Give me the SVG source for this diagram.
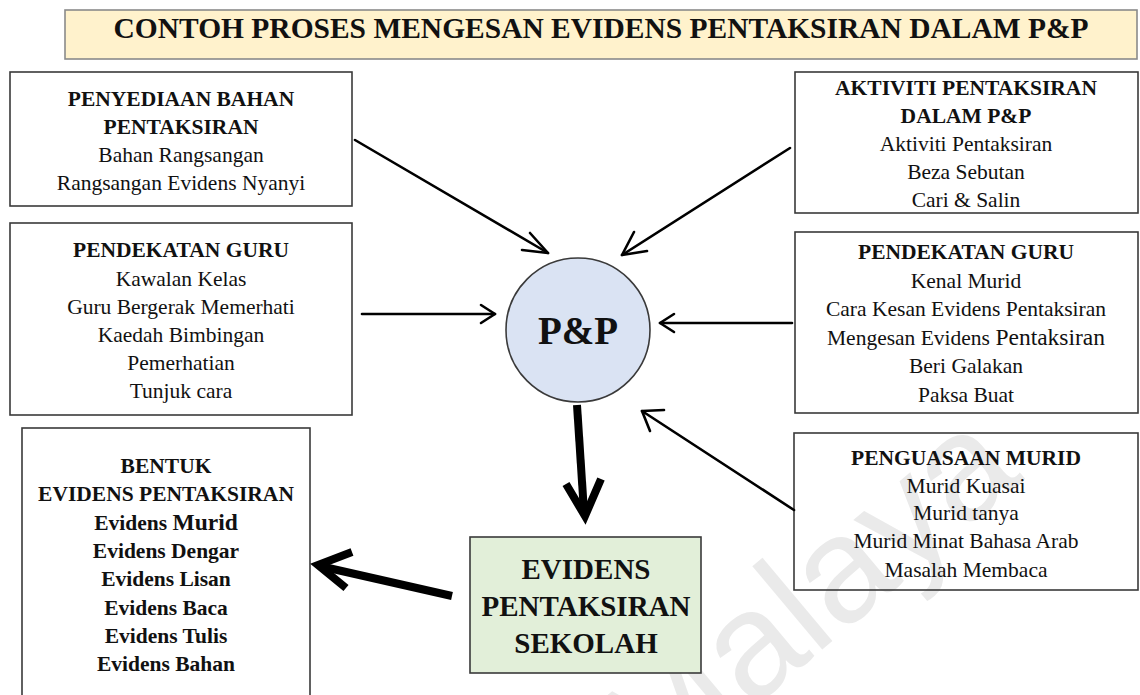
<svg xmlns="http://www.w3.org/2000/svg" width="1140" height="695" viewBox="0 0 1140 695">
  <style>
    .box { fill: none; stroke: #3a3a3a; stroke-width: 1.6; }
    .t { font-family: "Liberation Serif", "Times New Roman", serif; text-anchor: middle; fill: #111; }
    .h { font-weight: bold; font-size: 21.5px; }
    .n { font-size: 21.5px; }
    .thin { fill: none; stroke: #000; stroke-width: 2.6; stroke-linecap: round; stroke-linejoin: round; }
    .thick { fill: none; stroke: #000; stroke-width: 8; stroke-linecap: butt; stroke-linejoin: miter; }
  </style>

  <rect x="0" y="0" width="1140" height="695" fill="#ffffff"/>

  <!-- faint background watermark -->
  <text x="655" y="790" transform="rotate(-40 655 790)" font-family="Liberation Sans, Arial, sans-serif" font-size="150" fill="#eaeaea">Malaya</text>

  <!-- title banner -->
  <g id="title">
    <rect x="65" y="10" width="1072" height="49" fill="#fff2cc" stroke="#8a8a8a" stroke-width="1.6"/>
    <text class="t" x="601" y="38" font-weight="bold" font-size="30" textLength="975" lengthAdjust="spacingAndGlyphs">CONTOH PROSES MENGESAN EVIDENS PENTAKSIRAN DALAM P&amp;P</text>
  </g>

  <!-- left column -->
  <g id="penyediaan-bahan">
    <rect class="box" x="10" y="72" width="342" height="134"/>
    <text class="t h" x="181" y="106">PENYEDIAAN BAHAN</text>
    <text class="t h" x="181" y="134">PENTAKSIRAN</text>
    <text class="t n" x="181" y="162">Bahan Rangsangan</text>
    <text class="t n" x="181" y="190">Rangsangan  Evidens Nyanyi</text>
  </g>

  <g id="pendekatan-guru-kiri">
    <rect class="box" x="10" y="223" width="342" height="192"/>
    <text class="t h" x="181" y="257">PENDEKATAN GURU</text>
    <text class="t n" x="181" y="286">Kawalan Kelas</text>
    <text class="t n" x="181" y="314">Guru Bergerak Memerhati</text>
    <text class="t n" x="181" y="342">Kaedah Bimbingan</text>
    <text class="t n" x="181" y="370">Pemerhatian</text>
    <text class="t n" x="181" y="398">Tunjuk cara</text>
  </g>

  <g id="bentuk-evidens">
    <rect class="box" x="22" y="428" width="288" height="280"/>
    <text class="t h" x="166" y="473">BENTUK</text>
    <text class="t h" x="166" y="501">EVIDENS PENTAKSIRAN</text>
    <text class="t h" x="166" y="530">Evidens <tspan font-size="23.5">Murid</tspan></text>
    <text class="t h" x="166" y="558">Evidens Dengar</text>
    <text class="t h" x="166" y="586">Evidens Lisan</text>
    <text class="t h" x="166" y="615">Evidens Baca</text>
    <text class="t h" x="166" y="643">Evidens Tulis</text>
    <text class="t h" x="166" y="671">Evidens Bahan</text>
  </g>

  <!-- right column -->
  <g id="aktiviti-pentaksiran">
    <rect class="box" x="795" y="72" width="343" height="141"/>
    <text class="t h" x="966" y="95">AKTIVITI PENTAKSIRAN</text>
    <text class="t h" x="966" y="123">DALAM P&amp;P</text>
    <text class="t n" x="966" y="151">Aktiviti  Pentaksiran</text>
    <text class="t n" x="966" y="179">Beza Sebutan</text>
    <text class="t n" x="966" y="207">Cari &amp; Salin</text>
  </g>

  <g id="pendekatan-guru-kanan">
    <rect class="box" x="795" y="232" width="343" height="181"/>
    <text class="t h" x="966" y="259">PENDEKATAN GURU</text>
    <text class="t n" x="966" y="288">Kenal Murid</text>
    <text class="t n" x="966" y="316">Cara Kesan Evidens Pentaksiran</text>
    <text class="t n" x="966" y="345">Mengesan Evidens <tspan font-size="23.5">Pentaksiran</tspan></text>
    <text class="t n" x="966" y="373">Beri Galakan</text>
    <text class="t n" x="966" y="402">Paksa Buat</text>
  </g>

  <g id="penguasaan-murid">
    <rect class="box" x="794" y="433" width="344" height="157"/>
    <text class="t h" x="966" y="465">PENGUASAAN MURID</text>
    <text class="t n" x="966" y="493">Murid Kuasai</text>
    <text class="t n" x="966" y="520">Murid tanya</text>
    <text class="t n" x="966" y="548">Murid Minat Bahasa Arab</text>
    <text class="t n" x="966" y="577">Masalah Membaca</text>
  </g>

  <!-- centre -->
  <g id="pnp">
    <circle cx="578" cy="330" r="72" fill="#dae3f3" stroke="#3a3a3a" stroke-width="1.6"/>
    <text class="t" x="578" y="344" font-weight="bold" font-size="39">P&amp;P</text>
  </g>

  <g id="evidens-sekolah">
    <rect x="470" y="537" width="231" height="136" fill="#e2efd9" stroke="#3a3a3a" stroke-width="1.6"/>
    <text class="t" x="586" y="579" font-weight="bold" font-size="29">EVIDENS</text>
    <text class="t" x="586" y="616" font-weight="bold" font-size="29">PENTAKSIRAN</text>
    <text class="t" x="586" y="653" font-weight="bold" font-size="29">SEKOLAH</text>
  </g>

  <!-- connectors -->
  <g id="connectors">
    <path class="thin" d="M355 140 L548 253"/>
    <path class="thin" d="M530 233 L548 253 L522 250"/>

    <path class="thin" d="M790 148 L622 255"/>
    <path class="thin" d="M647 251 L622 255 L634 232"/>

    <path class="thin" d="M362 314 L495 314"/>
    <path class="thin" d="M481 305 L495 314 L481 323"/>

    <path class="thin" d="M792 323 L660 323"/>
    <path class="thin" d="M674 314 L660 323 L674 332"/>

    <path class="thin" d="M794 510 L642 411"/>
    <path class="thin" d="M650 431 L642 411 L664 410"/>

    <path class="thick" d="M577 405 L584 512"/>
    <path class="thick" d="M566 484 L585 516 L601 479"/>

    <path class="thick" d="M452 596 L324 567"/>
    <path class="thick" d="M352 552 L318 565 L346 588"/>
  </g>
</svg>
